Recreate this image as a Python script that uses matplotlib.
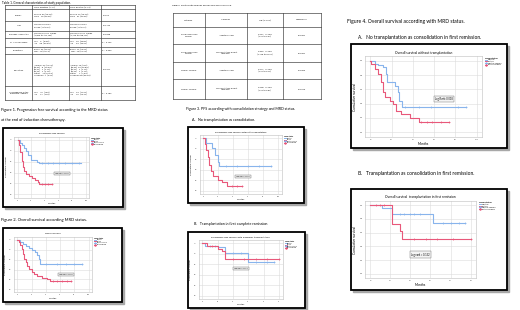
import matplotlib.pyplot as plt
from matplotlib.patches import Rectangle
from matplotlib.lines import Line2D
import numpy as np

plt.rcParams['font.family'] = ['Lato', 'DejaVu Sans']

W, H = 520, 310
BLUE = '#88b4ec'
RED = '#e8587a'

# ---------------- table 1 ----------------
t1_vars = ["", "Gender", "Age", "Baseline leukocytes", "CNS compromise", "Phenotype",
           "Karyotype", "Asparaginase in the\ninduction regimen"]
t1_neg = ["MRD negative (n=73)",
          "Female 33 (45.2%)\nMale   40 (54.8%)",
          "Median 28 years\nRange (14 to 69)",
          "Median 16,720  Range\n(1,000 to 474,400)",
          "Yes    5   (6.8%)\nNo    68  (93.2%)",
          "B cell  62 (84.9%)\nT cell  11 (15.1%)",
          "Normal  37 (50.7%)\nT(9;22)   8  (10.9%)\nT(4;11)   1  (1.4%)\nT(1;19)   1  (1.4%)\nOther    19 (26.0%)\nUnknown  7  (9.6%)",
          "Yes    46  (63%)\nNo     27  (37%)"]
t1_pos = ["MRD positive (n=93)",
          "Female 42 (45.2%)\nMale   51 (54.8%)",
          "Median 29 years\nRange (14 to 79)",
          "Median 23,750  Range\n(1,100 to 698,710)",
          "Yes    10  (10.8%)\nNo     83  (89.2%)",
          "B cell  74 (79.6%)\nT cell  19 (20.4%)",
          "Normal  46 (50%)\nT(9;22)  10 (10.8%)\nT(4;11)   1  (1.1%)\nT(1;19)   1  (1.1%)\nOther     7  (7.5%)\nUnknown 28 (30.1%)",
          "Yes    53  (57.6%)\nNo     39  (42.4%)"]
t1_p = ["", "P=0.93", "P=0.129", "P=0.038", "P = 0.425", "P = 0.353", "P=0.347", "P = 0.482"]

# ---------------- table 2 ----------------
t2_outcome = ["Outcome", "Progression free\nsurvival", "Progression free\nsurvival",
              "Overall survival", "Overall survival"]
t2_var = ["Variables", "Negative MRD", "Transplantation in first\nremission",
          "Negative MRD", "Transplantation in first\nremission"]
t2_hr = ["HR (IC 95%)", "0.431  IC 95%\n(0.24 to 0.67)", "0.269  IC 95%\n(0.128 to 0.564)",
         "0.471  IC 95%\n(0.27 to 0.79)", "0.408  IC 95%\n(0.20 to 0.82)"]
t2_sig = ["Significance", "P<0.001", "P<0.001", "P=0.005", "P=0.013"]

# ---------------- survival curves ----------------
# fig 1: PFS by MRD
pfs_neg_t = [0, 3, 6, 9, 12, 15, 20, 28, 32]
pfs_neg_s = [1.0, 0.95, 0.9, 0.85, 0.8, 0.72, 0.63, 0.6, 0.57]
pfs_neg_end = 92
pfs_neg_cens = [36, 45, 52, 60, 70, 80, 90]
pfs_pos_t = [0, 2, 4, 6, 8, 10, 12, 17, 21, 26, 30, 32]
pfs_pos_s = [1.0, 0.9, 0.78, 0.62, 0.5, 0.42, 0.38, 0.34, 0.3, 0.26, 0.22, 0.19]
pfs_pos_end = 51
pfs_pos_cens = [36, 40, 45, 51]

# fig 2: OS by MRD
os_neg_t = [0, 4, 8, 12, 16, 20, 25, 28, 30, 32]
os_neg_s = [1.0, 0.96, 0.92, 0.88, 0.84, 0.8, 0.76, 0.7, 0.62, 0.51]
os_neg_end = 90
os_neg_cens = [40, 55, 68, 80, 90]
os_pos_t = [0, 2, 4, 6, 8, 10, 12, 14, 17, 20, 24, 28, 35, 42, 46]
os_pos_s = [1.0, 0.95, 0.9, 0.82, 0.72, 0.62, 0.55, 0.48, 0.42, 0.36, 0.32, 0.28, 0.24, 0.2, 0.16]
os_pos_end = 75
os_pos_cens = [50, 55, 62, 70, 75]

# fig 3A: PFS without transplantation
pfsA_neg_t = [0, 4, 11, 15, 19, 21]
pfsA_neg_s = [1.0, 0.91, 0.81, 0.68, 0.55, 0.48]
pfsA_neg_end = 91
pfsA_neg_cens = [30, 45, 60, 75, 91]
pfsA_pos_t = [0, 2, 4, 6, 8, 10, 13, 20, 25, 31]
pfsA_pos_s = [1.0, 0.9, 0.78, 0.65, 0.5, 0.38, 0.28, 0.21, 0.16, 0.1]
pfsA_pos_end = 51
pfsA_pos_cens = [38, 45, 51]

# fig 3B: PFS with allogeneic transplantation
pfsB_neg_t = [0, 2, 10, 15, 30]
pfsB_neg_s = [1.0, 0.96, 0.93, 0.81, 0.65]
pfsB_neg_end = 47
pfsB_neg_cens = [5, 8, 20, 25, 35, 42, 47]
pfsB_pos_t = [0, 3, 10, 13, 15]
pfsB_pos_s = [1.0, 0.95, 0.9, 0.85, 0.70]
pfsB_pos_end = 50
pfsB_pos_cens = [6, 20, 27, 35, 42, 50]

# fig 4A: OS without transplantation
osA_neg_t = [0, 4, 7, 12, 15, 16, 23, 26, 27, 30]
osA_neg_s = [1.0, 0.96, 0.94, 0.91, 0.82, 0.71, 0.65, 0.56, 0.44, 0.36]
osA_neg_end = 90
osA_neg_cens = [33, 46, 57, 82, 90]
osA_pos_t = [0, 1, 4, 7, 10, 12, 14, 18, 21, 24, 29, 37, 46]
osA_pos_s = [1.0, 0.96, 0.89, 0.82, 0.7, 0.56, 0.49, 0.44, 0.39, 0.3, 0.25, 0.2, 0.15]
osA_pos_end = 74
osA_pos_cens = [48, 53, 58, 66, 74]

# fig 4B: OS with transplantation in first remission
osB_neg_t = [0, 6, 11, 31]
osB_neg_s = [1.0, 0.96, 0.87, 0.745]
osB_neg_end = 47
osB_neg_cens = [15, 17, 20, 22, 25, 36, 40, 44, 47]
osB_pos_t = [0, 11, 15, 16]
osB_pos_s = [1.0, 0.725, 0.625, 0.51]
osB_pos_end = 50
osB_pos_cens = [3, 5, 7, 22, 28, 33, 41, 50]

fig = plt.figure(figsize=(5.2, 3.1), dpi=100)
ax0 = fig.add_axes([0, 0, 1, 1])
ax0.set_xlim(0, W)
ax0.set_ylim(H, 0)
ax0.axis('off')


def table(cols, rows, cells, fs, align):
    for x in cols:
        ax0.plot([x, x], [rows[0], rows[-1]], color='#333', lw=0.45)
    for y in rows:
        ax0.plot([cols[0], cols[-1]], [y, y], color='#333', lw=0.45)
    for j, col in enumerate(cells):
        for i, txt in enumerate(col):
            yc = (rows[i] + rows[i + 1]) / 2
            if align[j] == 'center':
                xc = (cols[j] + cols[j + 1]) / 2
            else:
                xc = cols[j] + 1.5
            ax0.text(xc, yc, txt, fontsize=fs, ha=align[j], va='center',
                     linespacing=1.25, color='#222')


# Table 1
ax0.text(2, 3, "Table 1. General characteristics of study population.", fontsize=2.2, va='center')
table([5, 32, 69, 101, 135], [5, 9, 21, 31, 38, 47, 54, 86, 100],
      [t1_vars, t1_neg, t1_pos, t1_p], 1.6, ['center', 'left', 'left', 'left'])

# Table 2
ax0.text(172, 5, "Table 2. Multivariate analysis for PFS and overall survival.", fontsize=1.7, va='center')
table([173, 205, 247, 283, 321], [13, 27, 44, 62, 79, 99],
      [t2_outcome, t2_var, t2_hr, t2_sig], 1.6, ['center'] * 4)

# captions
ax0.text(1, 110, "Figure 1. Progression free survival according to the MRD status", fontsize=2.8, va='center')
ax0.text(1, 120, "at the end of induction chemotherapy.", fontsize=2.8, va='center')
ax0.text(1, 220, "Figure 2. Overall survival according MRD status.", fontsize=3.0, va='center')
ax0.text(186, 109, "Figure 3. PFS according with consolidation strategy and MRD status.", fontsize=2.6, va='center')
ax0.text(192, 120, "A.   No transplantation as consolidation.", fontsize=2.6, va='center')
ax0.text(194, 224, "B.   Transplantation in first complete remission.", fontsize=2.6, va='center')
ax0.text(347, 22, "Figure 4. Overall survival according with MRD status.", fontsize=3.6, va='center')
ax0.text(358, 37, "A.   No transplantation as consolidation in first remission.", fontsize=3.5, va='center')
ax0.text(358, 173, "B.   Transplantation as consolidation in first remission.", fontsize=3.5, va='center')


def curve(ax, t, s, end, cens, color):
    tt = np.append(t, end)
    ss = np.append(s, s[-1])
    ax.step(tt, ss, where='post', color=color, lw=0.8)
    idx = np.searchsorted(t, cens, side='right') - 1
    ax.plot(cens, np.array(s)[idx], '+', color=color, ms=1.8, mew=0.5)


def panel(box, frac, title, xmax, xstep, neg, pos, logrank, lr_xy, fs):
    x0, y0, x1, y1 = box
    w, h = x1 - x0, y1 - y0
    ax0.add_patch(Rectangle((x0 + 1.5, y0 + 1.5), w, h, color='#a8a8a8', zorder=1))
    ax0.add_patch(Rectangle((x0, y0), w, h, facecolor='white', edgecolor='black', lw=1.3, zorder=2))
    l, r, t, b = frac
    axl, axr = x0 + l * w, x0 + r * w
    axt, axb = y0 + t * h, y0 + b * h
    ax = fig.add_axes([axl / W, 1 - axb / H, (axr - axl) / W, (axb - axt) / H])
    curve(ax, *neg, BLUE)
    curve(ax, *pos, RED)
    ax.set_xlim(-xmax * 0.05, xmax * 1.05)
    ax.set_ylim(-0.06, 1.06)
    ax.set_xticks(np.arange(0, xmax + 1, xstep))
    ax.set_yticks(np.arange(0, 1.01, 0.2))
    ax.set_yticklabels([f"{v:.1f}" for v in np.arange(0, 1.01, 0.2)])
    ax.tick_params(labelsize=fs * 0.7, length=0, pad=1.5, colors='#444')
    ax.grid(color='#dcdcdc', lw=0.4)
    for sp in ax.spines.values():
        sp.set_color('#bdbdbd')
        sp.set_linewidth(0.4)
    ax.set_title(title, fontsize=fs, pad=2)
    ax.set_xlabel("Months", fontsize=fs, labelpad=1.5)
    ax.set_ylabel("Cumulative survival", fontsize=fs, labelpad=2)
    ax.text(lr_xy[0], lr_xy[1], logrank, fontsize=fs * 0.8, ha='center', va='center',
            bbox=dict(fc='#f4f4f4', ec='#666', lw=0.3, pad=0.8))
    handles = [Line2D([], [], color=BLUE, lw=0.7), Line2D([], [], color=RED, lw=0.7),
               Line2D([], [], color=BLUE, marker='+', lw=0.7, ms=1.8),
               Line2D([], [], color=RED, marker='+', lw=0.7, ms=1.8)]
    lg = ax.legend(handles, ["Negative", "positive", "Negative-censure", "positive-censure"],
                   title="MRD status", loc='upper left', bbox_to_anchor=(1.02, 1.0),
                   fontsize=fs * 0.6, frameon=False, handlelength=1.2, labelspacing=0.15,
                   borderaxespad=0, handletextpad=0.4)
    lg.get_title().set_fontsize(fs * 0.75)
    lg.get_title().set_fontweight('bold')
    lg._legend_box.align = 'left'


panel((3, 128, 123, 207), (0.093, 0.72, 0.11, 0.88), "Progression free survival", 100, 20,
      (pfs_neg_t, pfs_neg_s, pfs_neg_end, pfs_neg_cens),
      (pfs_pos_t, pfs_pos_s, pfs_pos_end, pfs_pos_cens), "Log Rank: 0.000", (65, 0.38), 1.7)
panel((3, 228, 122, 302), (0.09, 0.75, 0.12, 0.87), "Overall survival", 100, 20,
      (os_neg_t, os_neg_s, os_neg_end, os_neg_cens),
      (os_pos_t, os_pos_s, os_pos_end, os_pos_cens), "Log Rank: 0.000", (68, 0.3), 1.7)
panel((188, 127, 304, 203), (0.10, 0.81, 0.11, 0.88), "Progression free survival without transplantation", 100, 20,
      (pfsA_neg_t, pfsA_neg_s, pfsA_neg_end, pfsA_neg_cens),
      (pfsA_pos_t, pfsA_pos_s, pfsA_pos_end, pfsA_pos_cens), "Log Rank: 0.000", (53, 0.28), 1.7)
panel((188, 232, 305, 308), (0.09, 0.81, 0.11, 0.88), "Progression free survival with allogeneic transplantation", 50, 10,
      (pfsB_neg_t, pfsB_neg_s, pfsB_neg_end, pfsB_neg_cens),
      (pfsB_pos_t, pfsB_pos_s, pfsB_pos_end, pfsB_pos_cens), "Log Rank: 0.953", (25, 0.52), 1.7)
panel((351, 44, 507, 148), (0.09, 0.84, 0.12, 0.89), "Overall survival without transplantation", 100, 20,
      (osA_neg_t, osA_neg_s, osA_neg_end, osA_neg_cens),
      (osA_pos_t, osA_pos_s, osA_pos_end, osA_pos_cens), "Log Rank: 0.008", (69, 0.46), 2.3)
panel((351, 189, 507, 290), (0.09, 0.80, 0.12, 0.88), "Overall survival  transplantation in first remission", 50, 10,
      (osB_neg_t, osB_neg_s, osB_neg_end, osB_neg_cens),
      (osB_pos_t, osB_pos_s, osB_pos_end, osB_pos_cens), "Log rank = 0.152", (25, 0.28), 2.3)

fig.savefig("out.png", dpi=100)
